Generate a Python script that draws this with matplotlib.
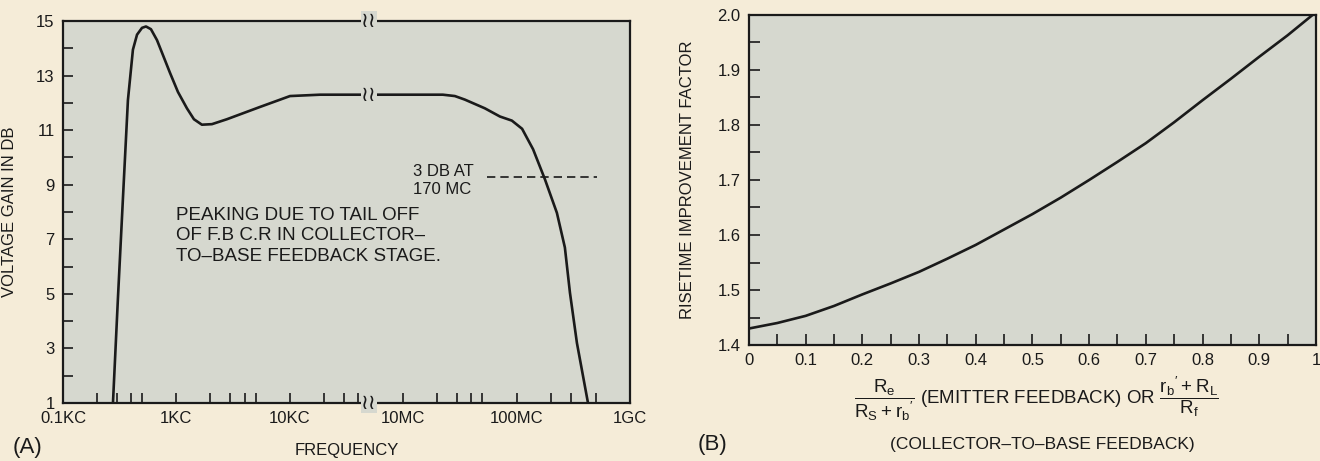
import numpy as np
import matplotlib
matplotlib.use("Agg")
import matplotlib.pyplot as plt

plt.rcParams['font.family'] = ['Liberation Sans', 'DejaVu Sans']
plt.rcParams['mathtext.default'] = 'regular'

# panel A: gain vs frequency (Hz), axis broken between 50 kc and 5 Mc
freq_hz = [276, 305, 338, 374, 414, 450, 498, 540, 597, 675, 762, 879, 1033, 1240, 1429,
           1680, 2060, 2790, 5460, 10050, 18500, 50000,
           5.0e6, 2.24e7, 2.86e7, 3.5e7, 5.26e7, 7.14e7, 9.1e7,
           1.12e8, 1.4e8, 1.78e8, 2.27e8, 2.67e8, 2.96e8, 3.41e8, 4.27e8]
gain_db = [1.0, 4.8, 8.5, 12.1, 13.95, 14.5, 14.75, 14.8, 14.7, 14.3, 13.75, 13.1, 12.4, 11.8, 11.4,
           11.2, 11.22, 11.4, 11.85, 12.25, 12.3, 12.3,
           12.3, 12.3, 12.25, 12.12, 11.8, 11.5, 11.35,
           11.05, 10.3, 9.2, 7.97, 6.7, 5.04, 3.2, 1.0]
freq_ticks = [1e2, 1e3, 1e4, 1e7, 1e8, 1e9]
freq_labels = ['0.1KC', '1KC', '10KC', '10MC', '100MC', '1GC']
freq_minor = [2e2, 3e2, 4e2, 5e2, 2e3, 3e3, 4e3, 5e3, 2e4, 3e4, 4e4,
              2e7, 3e7, 4e7, 5e7, 2e8, 3e8, 5e8]
gain_ticks = [1, 3, 5, 7, 9, 11, 13, 15]
break_left, break_right = 5e4, 5e6
cutoff_db = 9.3
cutoff_span = [5.5e7, 5.1e8]

# panel B: risetime improvement factor
fb_ratio = [0, 0.05, 0.1, 0.15, 0.2, 0.25, 0.3, 0.35, 0.4, 0.45, 0.5,
            0.55, 0.6, 0.65, 0.7, 0.75, 0.8, 0.85, 0.9, 0.95, 1.0]
rise_factor = [1.430, 1.440, 1.453, 1.471, 1.492, 1.512, 1.533, 1.557, 1.582, 1.610, 1.638,
               1.668, 1.700, 1.733, 1.767, 1.805, 1.845, 1.884, 1.924, 1.963, 2.005]

LB = np.log10(break_left)
GAP = np.log10(break_right / break_left)


def fwd(f):
    lf = np.log10(np.clip(np.asarray(f, float), 1e-12, None))
    return np.where(lf <= LB, lf, np.where(lf >= LB + GAP, lf - GAP, LB))


def inv(u):
    u = np.asarray(u, float)
    return np.where(u <= LB, 10 ** u, 10 ** (u + GAP))


fig_bg = '#f5ecd8'
ax_bg = '#d6d8cf'
ink = '#1a1a1a'

fig = plt.figure(figsize=(13.2, 4.61), dpi=100, facecolor=fig_bg)

# ---------------- panel A ----------------
axA = fig.add_axes([0.0477, 0.1258, 0.4295, 0.8286], facecolor=ax_bg)
axA.set_xscale('function', functions=(fwd, inv))
axA.plot(freq_hz, gain_db, color=ink, lw=1.9, solid_joinstyle='round', solid_capstyle='round')
axA.plot(cutoff_span, [cutoff_db, cutoff_db], color=ink, lw=1.2, ls=(0, (5, 3)))
axA.set_xlim(1e2, 1e9)
axA.set_ylim(1, 15)
axA.set_xticks(freq_ticks)
axA.set_xticklabels(freq_labels)
axA.set_xticks(freq_minor, minor=True)
axA.set_yticks(gain_ticks)
axA.set_yticks(range(2, 15, 2), minor=True)
axA.tick_params(which='both', direction='in', length=7, width=1.2, color=ink,
                labelsize=12, labelcolor=ink, pad=6)
for s in axA.spines.values():
    s.set_linewidth(1.6)
    s.set_color(ink)

# break marks on the curve and on both spines
brk = dict(ha='center', va='center', fontsize=15, color=ink, family='DejaVu Sans',
           bbox=dict(boxstyle='square,pad=0', fc=ax_bg, ec='none'), clip_on=False, zorder=5)
for yb in (12.3, 1.0, 15.0):
    axA.text(break_left, yb, '\u2240\u2240', **brk)

axA.set_ylabel('VOLTAGE GAIN IN DB', fontsize=12, color=ink, labelpad=14)
axA.set_xlabel('FREQUENCY', fontsize=12, color=ink, labelpad=12)
axA.text(1.0e3, 8.2, 'PEAKING DUE TO TAIL OFF\nOF F.B C.R IN COLLECTOR\u2013\nTO\u2013BASE FEEDBACK STAGE.',
         fontsize=13.5, color=ink, va='top', ha='left', linespacing=1.3)
axA.text(1.22e7, 9.75, '3 DB AT\n170 MC', fontsize=12, color=ink, va='top', ha='left',
         linespacing=1.2)
fig.text(0.021, 0.03, '(A)', fontsize=16, color=ink, ha='center', va='center')

# ---------------- panel B ----------------
axB = fig.add_axes([0.5674, 0.2516, 0.4295, 0.7159], facecolor=ax_bg)
axB.plot(fb_ratio, rise_factor, color=ink, lw=1.9, solid_joinstyle='round')
axB.set_xlim(0, 1)
axB.set_ylim(1.4, 2.0)
axB.set_xticks(np.round(np.arange(0, 1.01, 0.1), 1))
axB.set_xticklabels(['0', '0.1', '0.2', '0.3', '0.4', '0.5', '0.6', '0.7', '0.8', '0.9', '1'])
axB.set_xticks(np.arange(0.05, 1.0, 0.1), minor=True)
axB.set_yticks(np.round(np.arange(1.4, 2.01, 0.1), 1))
axB.set_yticks(np.arange(1.45, 2.0, 0.1), minor=True)
axB.tick_params(which='both', direction='in', length=8, width=1.2, color=ink,
                labelsize=12, labelcolor=ink, pad=6)
for s in axB.spines.values():
    s.set_linewidth(1.6)
    s.set_color(ink)
axB.set_ylabel('RISETIME IMPROVEMENT FACTOR', fontsize=12, color=ink, labelpad=16)

fig.text(0.785, 0.135,
         r'$\dfrac{R_e}{R_S+r_b{}^{\prime}}$ (EMITTER FEEDBACK) OR $\dfrac{r_b{}^{\prime}+R_L}{R_f}$',
         fontsize=13.5, color=ink, ha='center', va='center')
fig.text(0.79, 0.035, '(COLLECTOR\u2013TO\u2013BASE FEEDBACK)', fontsize=12.5, color=ink,
         ha='center', va='center')
fig.text(0.54, 0.035, '(B)', fontsize=16, color=ink, ha='center', va='center')

fig.savefig('out.png', dpi=100, facecolor=fig_bg)
